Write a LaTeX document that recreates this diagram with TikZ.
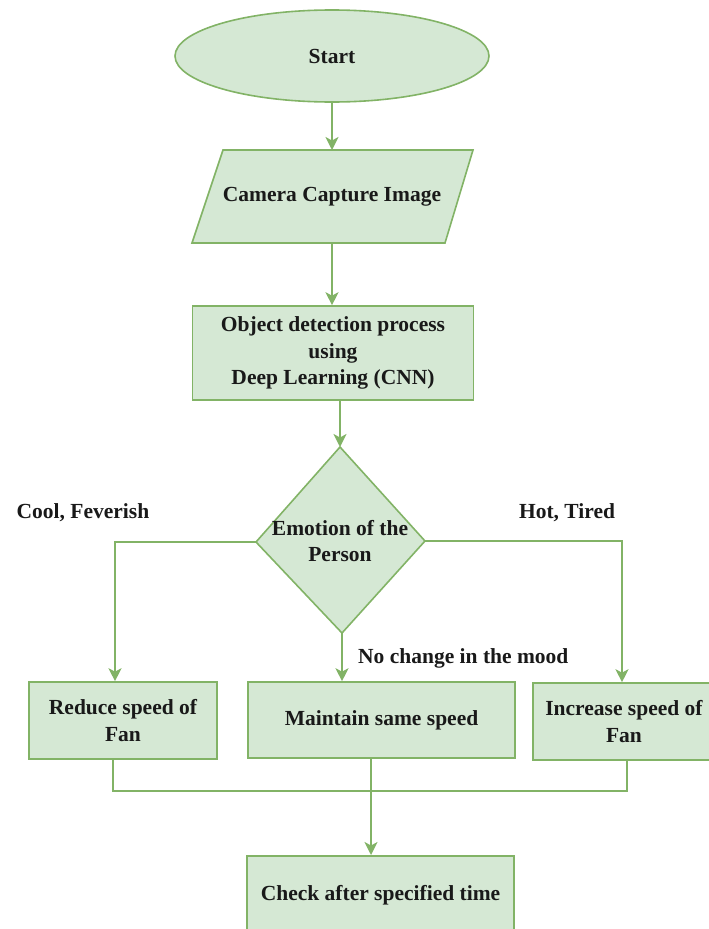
\documentclass[tikz,border=0pt]{standalone}
\usepackage{fontspec}
\setmainfont{Liberation Serif}
\usetikzlibrary{shapes.geometric,arrows.meta}
\definecolor{gline}{HTML}{82B366}
\definecolor{gfill}{HTML}{D5E8D4}
\begin{document}
\begin{tikzpicture}[x=1pt,y=-1pt,
  every node/.style={font=\fontsize{21.5}{26.5}\selectfont\bfseries, text=black!90, align=center, inner sep=0pt},
  shp/.style={draw=gline, fill=gfill, line width=1.6pt},
  conn/.style={draw=gline, line width=2pt},
  arr/.style={conn, -{Stealth[length=13pt,width=13pt,inset=3.5pt]}},
  lbl/.style={font=\fontsize{21.5}{26.5}\selectfont\bfseries}
]
\useasboundingbox (0,0) rectangle (709,929);
% Start
\node[shp, ellipse, minimum width=314pt, minimum height=92pt] (start) at (332,56) {Start};
% Parallelogram
\path[shp] (223,150) -- (473,150) -- (445,243) -- (192,243) -- cycle;
\node (cam) at (332,197) {Camera Capture Image};
\coordinate (camT) at (332,150);
\coordinate (camB) at (332,243);
% Object detection
\node[shp, minimum width=281pt, minimum height=94pt] (obj) at (333,353) {Object detection process\\using\\Deep Learning (CNN)};
% Diamond
\path[shp] (340,447) -- (425,541) -- (342,633) -- (256,542) -- cycle;
\coordinate (dT) at (340,447);
\coordinate (dL) at (256,542);
\coordinate (dR) at (425,541);
\coordinate (dB) at (342,633);
\node (emo) at (340,541) {Emotion of the\\Person};
% Three boxes
\node[shp, minimum width=188pt, minimum height=77pt] (red) at (123,720.5) {Reduce speed of\\Fan};
\node[shp, minimum width=267pt, minimum height=76pt] (main) at (381.5,720) {Maintain same speed};
\node[shp, minimum width=184pt, minimum height=77pt, anchor=west] (inc) at (532,721.5) {\phantom{x}};
\node (inctext) at (624,721.5) {Increase speed of\\Fan};
% Check box
\node[shp, minimum width=267pt, minimum height=110pt, anchor=north] (chk) at (380.5,855) {};
\node (chktext) at (380.5,895) {Check after specified time};
% Labels
\node[lbl] (l1) at (83,513) {Cool, Feverish};
\node[lbl] (l2) at (567,513) {Hot, Tired};
\node[lbl, anchor=west] (l3) at (358,658) {No change in the mood};
% Connectors
\draw[arr] (start.south) -- (camT);
\draw[arr] (camB) -- (obj.north -| camB);
\draw[arr] (obj.south -| dT) -- (dT);
\draw[arr] (dL) -| (red.north -| 115,0);
\draw[arr] (dR) -| (inc.north -| 622,0);
\draw[arr] (dB) -- (main.north -| dB);
\coordinate (jL) at (113,791);
\coordinate (jR) at (627,791);
\draw[conn] (red.south -| jL) -- (jL) -- (jR) -- (inc.south -| jR);
\draw[arr] (main.south -| 371,0) -- (chk.north -| 371,0);
\end{tikzpicture}
\end{document}
